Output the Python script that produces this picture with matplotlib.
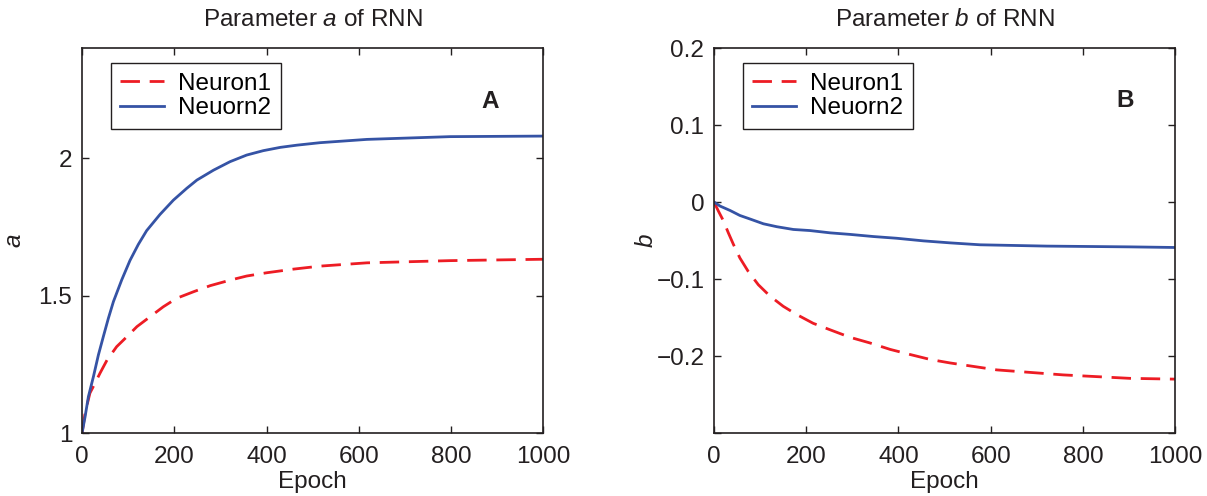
import matplotlib
matplotlib.use("Agg")
import matplotlib.pyplot as plt

plt.rcParams['font.family'] = ['Liberation Sans', 'DejaVu Sans']
plt.rcParams['mathtext.fontset'] = 'custom'
plt.rcParams['mathtext.rm'] = 'Liberation Sans'
plt.rcParams['mathtext.it'] = 'Liberation Sans:italic'

# ---- data: parameter a ----
epoch_a1 = [0, 6.5, 17, 28, 39, 54, 75, 97, 119, 147.5, 176, 205, 242, 278, 321,
            357, 401, 458, 516, 618, 798, 1000]
a_neuron1 = [1.0, 1.072, 1.145, 1.181, 1.218, 1.265, 1.314, 1.35, 1.387, 1.423,
             1.459, 1.49, 1.514, 1.536, 1.556, 1.571, 1.583, 1.596, 1.607, 1.619,
             1.627, 1.632]
epoch_a2 = [0, 6.5, 13.7, 24.6, 35.4, 46, 57, 68, 86, 104, 122, 140, 169, 198, 227,
            249, 285, 321, 357, 393, 430, 466, 516, 618, 798, 1000]
a_neuron2 = [1.0, 1.059, 1.132, 1.205, 1.284, 1.35, 1.417, 1.478, 1.557, 1.628,
             1.686, 1.736, 1.795, 1.847, 1.89, 1.92, 1.956, 1.987, 2.011, 2.027,
             2.039, 2.047, 2.056, 2.068, 2.078, 2.08]

# ---- data: parameter b ----
epoch_b1 = [0, 9.4, 20, 31, 42, 56, 74, 96, 121, 150, 179, 215, 252, 295, 338, 382,
            425, 469, 512, 613, 757, 902, 1000]
b_neuron1 = [0.0, -0.0117, -0.024, -0.04, -0.055, -0.0726, -0.090, -0.1074, -0.122,
             -0.1354, -0.146, -0.1575, -0.166, -0.1757, -0.183, -0.1914, -0.198,
             -0.2045, -0.209, -0.218, -0.2245, -0.229, -0.230]
epoch_b2 = [0, 13, 35, 56, 78, 107, 136, 172, 208, 252, 295, 346, 396, 454, 512, 577,
            722, 902, 1000]
b_neuron2 = [0.0, -0.0052, -0.011, -0.0174, -0.022, -0.0282, -0.032, -0.0356, -0.037,
             -0.04, -0.042, -0.0448, -0.047, -0.0504, -0.053, -0.0555, -0.0572,
             -0.0582, -0.059]

labels = ['Neuron1', 'Neuorn2']
x_ticks = [0, 200, 400, 600, 800, 1000]

RED = '#ED1C24'
BLUE = '#3553A5'
INK = '#231F20'
FS = 17.5

fig = plt.figure(figsize=(12.07, 4.96), dpi=100)
ax1 = fig.add_axes([0.068, 0.127, 0.382, 0.776])
ax2 = fig.add_axes([0.5916, 0.127, 0.382, 0.776])


def style(ax):
    for s in ax.spines.values():
        s.set_linewidth(1.2)
        s.set_color(INK)
    ax.tick_params(direction='in', length=5, width=1.0, top=True, right=True,
                   labelsize=FS, colors=INK)
    ax.tick_params(axis='x', pad=9)
    ax.tick_params(axis='y', pad=7)
    ax.set_xlim(0, 1000)
    ax.set_xticks(x_ticks)
    ax.set_xlabel('Epoch', fontsize=FS, color=INK)
    ax.xaxis.set_label_coords(0.5, -0.098)


# Panel A
ax1.plot(epoch_a1, a_neuron1, color=RED, lw=2, dashes=(7, 3.5), label=labels[0])
ax1.plot(epoch_a2, a_neuron2, color=BLUE, lw=2, label=labels[1])
style(ax1)
ax1.set_ylim(1, 2.4)
ax1.set_yticks([1, 1.5, 2])
ax1.set_yticklabels(['1', '1.5', '2'])
ax1.set_ylabel('$a$', fontsize=FS, color=INK)
ax1.yaxis.set_label_coords(-0.122, 0.5)
ax1.text(0.5, 1.073, 'Parameter $a$ of RNN', transform=ax1.transAxes,
         ha='center', va='center', fontsize=FS, color=INK)
ax1.text(885, 2.204, 'A', fontsize=FS, fontweight='bold', ha='center', va='center',
         color=INK)

# Panel B
ax2.plot(epoch_b1, b_neuron1, color=RED, lw=2, dashes=(7, 3.5), label=labels[0])
ax2.plot(epoch_b2, b_neuron2, color=BLUE, lw=2, label=labels[1])
style(ax2)
ax2.set_ylim(-0.3, 0.2)
ax2.set_yticks([-0.3, -0.2, -0.1, 0, 0.1, 0.2])
ax2.set_yticklabels(['', '\u22120.2', '\u22120.1', '0', '0.1', '0.2'])
ax2.set_ylabel('$b$', fontsize=FS, color=INK)
ax2.yaxis.set_label_coords(-0.122, 0.5)
ax2.text(0.5, 1.073, 'Parameter $b$ of RNN', transform=ax2.transAxes,
         ha='center', va='center', fontsize=FS, color=INK)
ax2.text(891, 0.132, 'B', fontsize=FS, fontweight='bold', ha='center', va='center',
         color=INK)

for ax in (ax1, ax2):
    leg = ax.legend(loc='upper left', bbox_to_anchor=(0.062, 0.961), borderaxespad=0,
                    fontsize=FS, fancybox=False, framealpha=1, edgecolor=INK,
                    handlelength=1.8, handletextpad=0.58, borderpad=0.4,
                    labelspacing=0.1)
    leg.get_frame().set_linewidth(1.0)

fig.savefig('out.png', dpi=100)
